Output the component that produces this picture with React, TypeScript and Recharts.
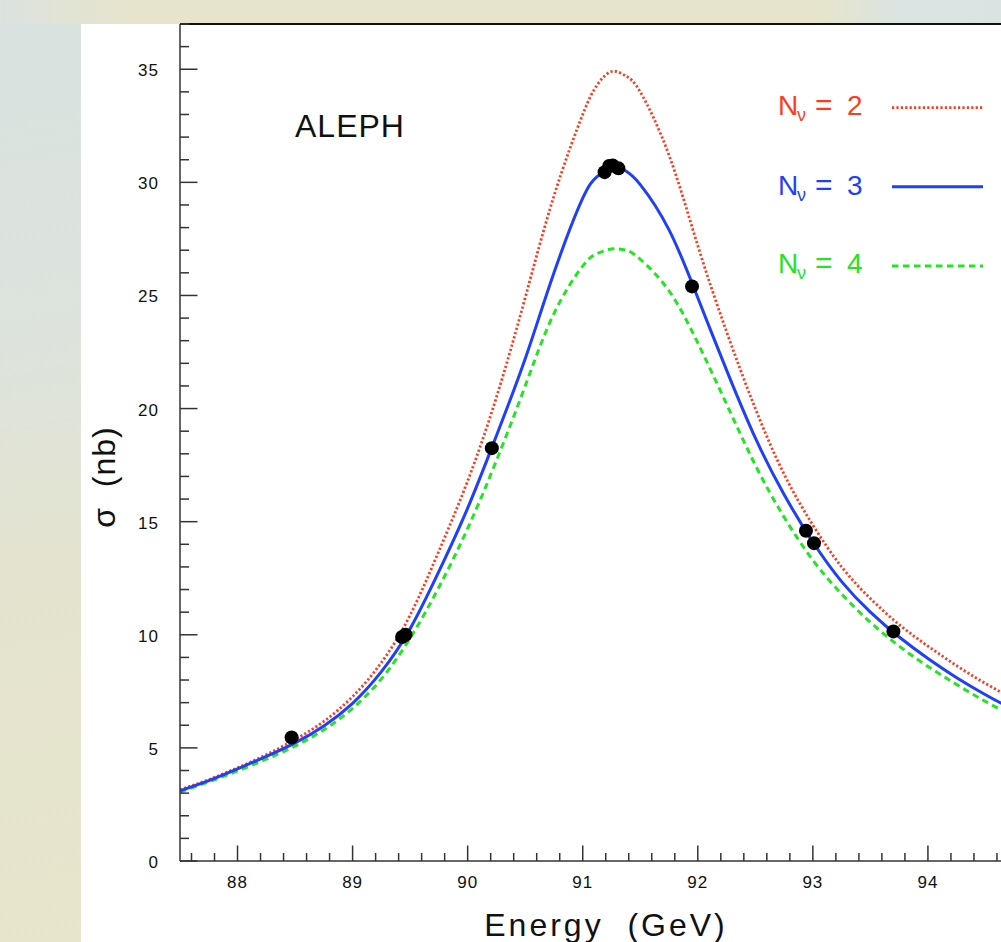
import React from 'react';
import { ComposedChart, Line, Scatter, XAxis, YAxis, ReferenceLine, Legend, Customized } from 'recharts';

const FONT = '"Liberation Sans", Arial, Helvetica, sans-serif';

// Centre-of-mass energy grid (GeV) for the theoretical curves
const energy = [87.5, 87.75, 88, 88.25, 88.5, 88.75, 89, 89.25, 89.5, 89.75, 90, 90.25, 90.5, 90.75, 91, 91.125, 91.25, 91.375, 91.5, 91.75, 92, 92.25, 92.5, 92.75, 93, 93.25, 93.5, 93.75, 94, 94.25, 94.5, 94.75, 95];
// Cross sections (nb) for N_nu = 2, 3, 4
const sigmaNu2 = [3.15, 3.6, 4.12, 4.7, 5.37, 6.17, 7.27, 8.77, 10.87, 13.7, 16.8, 20.5, 24.9, 29.4, 33.0, 34.3, 34.9, 34.7, 34.0, 31.2, 27.2, 23.4, 20.0, 17.1, 14.85, 13.0, 11.6, 10.45, 9.5, 8.63, 7.85, 7.15, 6.52];
const sigmaNu3 = [3.1, 3.55, 4.07, 4.62, 5.22, 5.97, 6.97, 8.37, 10.27, 12.8, 15.6, 18.8, 22.2, 26.0, 29.3, 30.25, 30.7, 30.5, 29.9, 27.9, 24.9, 21.7, 18.7, 16.2, 14.1, 12.35, 11.0, 9.9, 8.95, 8.1, 7.35, 6.68, 6.08];
const sigmaNu4 = [3.05, 3.5, 3.98, 4.5, 5.08, 5.8, 6.75, 8.05, 9.85, 12.1, 14.7, 17.7, 21.0, 24.2, 26.3, 26.85, 27.05, 27.0, 26.6, 25.2, 22.9, 20.2, 17.5, 15.2, 13.3, 11.8, 10.55, 9.5, 8.6, 7.8, 7.05, 6.4, 5.85];

// ALEPH measurements
const measEnergy = [88.47, 89.43, 89.46, 90.21, 91.19, 91.23, 91.26, 91.31, 91.95, 92.94, 93.01, 93.70];
const measSigma = [5.46, 9.9, 10.0, 18.25, 30.45, 30.72, 30.75, 30.62, 25.4, 14.6, 14.05, 10.15];

// Axis ticks
const xMajorTicks = [88, 89, 90, 91, 92, 93, 94];
const xTicks: number[] = [];
for (let k = 0; 87.6 + 0.2 * k <= 94.81; k++) xTicks.push(Math.round((87.6 + 0.2 * k) * 10) / 10);
const yMajorTicks = [0, 5, 10, 15, 20, 25, 30, 35];
const yTicks: number[] = [];
for (let v = 0; v <= 37; v++) yTicks.push(v);

const legendLabels = ['2', '3', '4'];

const RED = '#ff3b1f';
const BLUE = '#1f3fff';
const GREEN = '#22e622';

const toRows = (ys: number[]) => energy.map((e, i) => ({ E: e, s: ys[i] }));
const dataNu2 = toRows(sigmaNu2);
const dataNu3 = toRows(sigmaNu3);
const dataNu4 = toRows(sigmaNu4);
const measData = measEnergy.map((e, i) => ({ E: e, s: measSigma[i] }));

const AXIS = '#333';

const XTick = (p: any) => {
  const v = p.payload.value;
  const major = xMajorTicks.some((m) => Math.abs(m - v) < 1e-6);
  return (
    <g>
      <line x1={p.x} x2={p.x} y1={p.y} y2={p.y - (major ? 15.5 : 8)} stroke={AXIS} strokeWidth={1.5} />
      {major && (
        <text x={p.x} y={p.y + 27} textAnchor="middle" fontFamily={FONT} fontSize={17} letterSpacing={1} fill="#111">
          {v}
        </text>
      )}
    </g>
  );
};

const YTick = (p: any) => {
  const v = p.payload.value;
  const major = yMajorTicks.includes(v);
  return (
    <g>
      <line x1={p.x} x2={p.x + (major ? 17.5 : 9)} y1={p.y} y2={p.y} stroke={AXIS} strokeWidth={1.5} />
      {major && (
        <text x={p.x - 21} y={p.y + 7} textAnchor="end" fontFamily={FONT} fontSize={17} letterSpacing={1} fill="#111">
          {v}
        </text>
      )}
    </g>
  );
};

const Dot = (p: any) => <circle cx={p.cx} cy={p.cy} r={7} fill="#000" />;

const Annotations = () => (
  <g fontFamily={FONT}>
    <text x={295} y={137} fontSize={32} letterSpacing={1} fill="#111">ALEPH</text>
    <text x={606} y={936} fontSize={32} letterSpacing={3} textAnchor="middle" fill="#111" style={{ whiteSpace: 'pre' }}>Energy  (GeV)</text>
    <text x={115} y={477} fontSize={32} letterSpacing={1} textAnchor="middle" fill="#111" style={{ whiteSpace: 'pre' }} transform="rotate(-90 115 477)">σ  (nb)</text>
  </g>
);

const legendStyles = [
  { color: RED, dash: '2.2 2.2', width: 2.8 },
  { color: BLUE, dash: undefined, width: 3 },
  { color: GREEN, dash: '6.5 4.5', width: 3 },
];
const rowBase = [55, 135, 213];
const rowLine = [47.7, 126.7, 206];

const LegendBox = () => (
  <svg width={260} height={230} style={{ display: 'block' }}>
    {legendLabels.map((lab, i) => {
      const st = legendStyles[i];
      return (
        <g key={lab} fontFamily={FONT} fill={st.color}>
          <text x={18} y={rowBase[i]} fontSize={28}>N</text>
          <text x={37} y={rowBase[i] + 6} fontSize={18}>ν</text>
          <text x={55} y={rowBase[i]} fontSize={30}>=</text>
          <text x={87} y={rowBase[i]} fontSize={28}>{lab}</text>
          <line x1={132} x2={223} y1={rowLine[i]} y2={rowLine[i]} stroke={st.color} strokeWidth={st.width} strokeDasharray={st.dash} />
        </g>
      );
    })}
  </svg>
);

export default function App() {
  return (
    <div
      style={{
        position: 'fixed',
        left: 0,
        top: 0,
        width: 1001,
        height: 942,
        overflow: 'hidden',
        background: 'linear-gradient(90deg, #dbe2df 0px, #e2e3d4 70px, #e6e4cc 130px, #e6e4cc 820px, #dbe4e2 900px, #d9e4e2 1001px)',
      }}
    >
      <div
        style={{
          position: 'absolute',
          left: 0,
          top: 24,
          width: 81,
          bottom: 0,
          background: 'linear-gradient(170deg, #d9e2e0 0%, #dde3dc 35%, #e4e3cf 60%, #e7e5cb 100%)',
        }}
      />
      <div style={{ position: 'absolute', left: 81, top: 24, right: 0, bottom: 0, background: '#fff' }} />
      <div style={{ position: 'absolute', left: 0, top: 0 }}>
        <ComposedChart width={1043} height={942} margin={{ top: 24, right: 0, bottom: 0, left: 0 }}>
          <XAxis
            type="number"
            dataKey="E"
            domain={[87.5, 95]}
            ticks={xTicks}
            interval={0}
            tickSize={0}
            tickMargin={0}
            tickLine={false}
            height={81}
            axisLine={{ stroke: AXIS, strokeWidth: 1.5 }}
            tick={(p: any) => <XTick {...p} />}
            allowDataOverflow
          />
          <YAxis
            type="number"
            dataKey="s"
            domain={[0, 37]}
            ticks={yTicks}
            interval={0}
            width={180}
            tickSize={0}
            tickMargin={0}
            tickLine={false}
            axisLine={{ stroke: AXIS, strokeWidth: 1.5 }}
            tick={(p: any) => <YTick {...p} />}
            allowDataOverflow
          />
          <ReferenceLine y={37} stroke="#111" strokeWidth={2} />
          <Line data={dataNu4} dataKey="s" type="natural" stroke={GREEN} strokeWidth={3} strokeDasharray="6.5 4.5" dot={false} isAnimationActive={false} />
          <Line data={dataNu2} dataKey="s" type="natural" stroke={RED} strokeWidth={2.8} strokeDasharray="2.2 2.2" dot={false} isAnimationActive={false} />
          <Line data={dataNu3} dataKey="s" type="natural" stroke={BLUE} strokeWidth={3} dot={false} isAnimationActive={false} />
          <Scatter data={measData} dataKey="s" shape={(p: any) => <Dot {...p} />} isAnimationActive={false} />
          <Customized component={Annotations} />
          <Legend
            layout="vertical"
            align="center"
            verticalAlign="middle"
            wrapperStyle={{ left: 760, top: 60, width: 260, height: 230 }}
            content={() => <LegendBox />}
          />
        </ComposedChart>
      </div>
    </div>
  );
}
